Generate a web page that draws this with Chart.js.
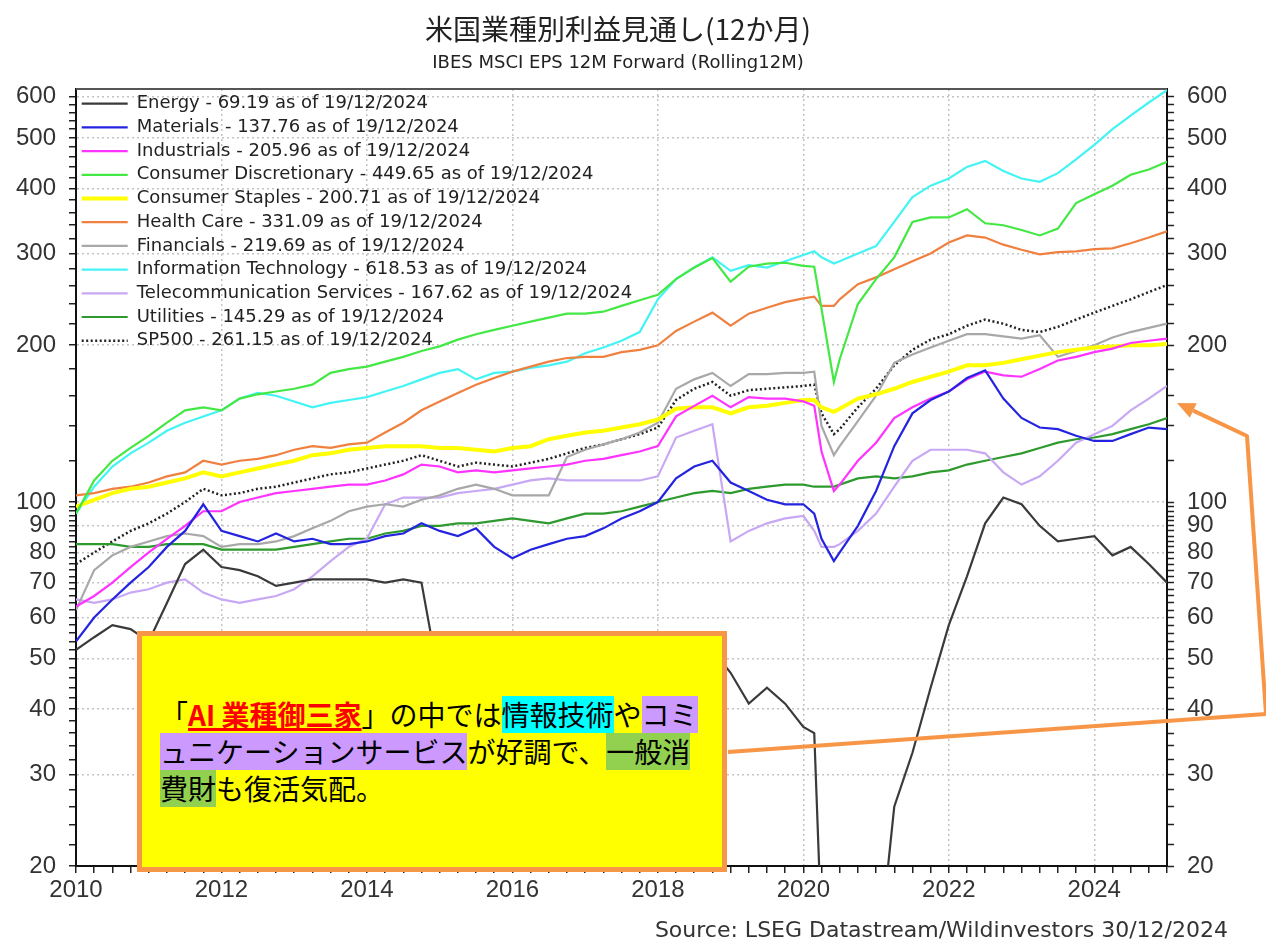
<!DOCTYPE html>
<html>
<head>
<meta charset="utf-8">
<script src="https://cdn.jsdelivr.net/npm/chart.js@4.4.1/dist/chart.umd.min.js"></script>
<style>
  body { margin: 0; background: #fff; }
  #wrap { position: relative; width: 1266px; height: 941px; }
  #note {
    position: absolute; left: 137px; top: 631px; width: 590px; height: 241px;
    box-sizing: border-box; border: 5px solid #F79646; background: #FFFF00;
    padding: 60px 0 0 18px; font-family: "Noto Sans CJK JP"; font-size: 28px; color: #000;
  }
  #note .ln { height: 37px; line-height: 37px; white-space: nowrap; }
  #note .hc, #note .hp, #note .hg { display: inline-block; height: 37px; }
  #note .hc { background: #00FFFF; }
  #note .hp { background: #CC99FF; }
  #note .hg { background: #92D050; }
  #note .red { color: #FF0000; font-weight: bold; text-decoration: underline; text-decoration-thickness: 3px; }
  #source {
    position: absolute; right: 38px; top: 917px; font-family: "DejaVu Sans"; font-size: 22px;
    line-height: 26px; color: #333; white-space: nowrap;
  }
</style>
</head>
<body>
<div id="wrap">
  <canvas id="myChart" width="1266" height="941"></canvas>
  <div id="note">
    <div class="ln">「<span class="red">AI 業種御三家</span>」の中では<span class="hc">情報技術</span>や<span class="hp">コミ</span></div>
    <div class="ln"><span class="hp">ュニケーションサービス</span>が好調で、<span class="hg">一般消</span></div>
    <div class="ln"><span class="hg">費財</span>も復活気配。</div>
  </div>
  <div id="source">Source: LSEG Datastream/Wildinvestors 30/12/2024</div>
</div>
<script>
// dates (decimal years), quarterly plus two extra points around the 2020 crash
const dates = [
  2010, 2010.25, 2010.5, 2010.75, 2011, 2011.25, 2011.5, 2011.75,
  2012, 2012.25, 2012.5, 2012.75, 2013, 2013.25, 2013.5, 2013.75,
  2014, 2014.25, 2014.5, 2014.75, 2015, 2015.25, 2015.5, 2015.75,
  2016, 2016.25, 2016.5, 2016.75, 2017, 2017.25, 2017.5, 2017.75,
  2018, 2018.25, 2018.5, 2018.75, 2019, 2019.25, 2019.5, 2019.75,
  2020, 2020.15, 2020.25, 2020.42, 2020.5, 2020.75,
  2021, 2021.25, 2021.5, 2021.75, 2022, 2022.25, 2022.5, 2022.75,
  2023, 2023.25, 2023.5, 2023.75, 2024, 2024.25, 2024.5, 2024.75, 2025
];

const energy = [
  52, 55, 58, 57, 54, 64, 76, 81, 75, 74, 72, 69, 70, 71, 71, 71,
  71, 70, 71, 70, 45, 38, 34, 30, 26, 24, 27, 30, 33, 35, 37, 40,
  43, 46, 50, 52, 47, 41, 44, 41, 37, 36, 15, 8, 7, 9,
  12, 26, 33, 44, 58, 72, 91, 102, 99, 90, 84, 85, 86, 79, 82, 76, 70
];
const materials = [
  54, 60, 65, 70, 75, 82, 88, 99, 88, 86, 84, 87, 84, 85, 83, 83,
  84, 86, 87, 91, 88, 86, 89, 82, 78, 81, 83, 85, 86, 89, 93, 96,
  100, 111, 117, 120, 109, 105, 101, 99, 99, 95, 85, 77, 80, 90,
  105, 128, 148, 157, 163, 173, 179, 158, 145, 139, 138, 134, 131, 131, 135, 139, 138
];
const industrials = [
  63, 66, 70, 75, 80, 85, 90, 96, 96, 100, 102, 104, 105, 106, 107, 108,
  108, 110, 113, 118, 117, 114, 115, 114, 115, 116, 117, 118, 120, 121, 123, 125,
  128, 146, 153, 160, 152, 159, 158, 158, 156, 153, 125, 105, 108, 120,
  130, 145, 152, 158, 163, 172, 178, 175, 174, 180, 187, 190, 194, 197, 202, 204, 206
];
const consDisc = [
  95, 110, 120, 127, 134, 142, 150, 152, 150, 158, 161, 163, 165, 168, 177, 180,
  182, 186, 190, 195, 199, 205, 210, 214, 218, 222, 226, 230, 230, 232, 238, 244,
  250, 268, 282, 294, 265, 283, 287, 288, 284, 283, 235, 170, 188, 240,
  268, 295, 345, 352, 352, 365, 343, 340, 333, 325, 335, 375, 390, 405, 425, 435, 450
];
const consStaples = [
  98, 101, 104, 106, 107, 109, 111, 114, 112, 114, 116, 118, 120, 123, 124, 126,
  127, 128, 128, 128, 127, 127, 126, 125, 127, 128, 132, 134, 136, 137, 139, 141,
  144, 151, 152, 152, 148, 152, 153, 155, 157, 157, 152, 149, 151, 158,
  161, 165, 170, 174, 178, 183, 183, 185, 188, 191, 194, 196, 198, 199, 200, 200, 201
];
const healthCare = [
  103, 104, 106, 107, 109, 112, 114, 120, 118, 120, 121, 123, 126, 128, 127, 129,
  130, 136, 142, 150, 156, 162, 168, 173, 178, 182, 186, 189, 190, 190, 194, 196,
  200, 213, 222, 231, 218, 230, 236, 242, 246, 248, 238, 238, 245, 262,
  270, 280, 290, 300, 315, 325, 322, 312, 305, 299, 302, 303, 306, 307, 314, 322, 331
];
const financials = [
  62, 74, 79, 82, 84, 86, 87, 86, 82, 83, 83, 84, 86, 89, 92, 96,
  98, 99, 98, 101, 103, 106, 108, 106, 103, 103, 103, 122, 126, 129, 132, 136,
  142, 165, 172, 177, 167, 176, 176, 177, 177, 178, 140, 123, 128, 143,
  160, 185, 192, 198, 204, 210, 210, 208, 206, 209, 190, 195, 200, 207, 212, 216, 220
];
const infoTech = [
  95, 107, 117, 124, 130, 137, 142, 146, 150, 158, 162, 160, 156, 152, 155, 157,
  159, 163, 167, 172, 177, 180, 172, 177, 178, 181, 183, 186, 193, 198, 204, 212,
  245, 268, 282, 295, 278, 285, 282, 290, 298, 303, 295, 287, 290, 300,
  310, 345, 385, 405, 418, 440, 452, 432, 418, 412, 428, 455, 485, 520, 552, 585, 618
];
const telecom = [
  65, 64, 65, 67, 68, 70, 71, 67, 65, 64, 65, 66, 68, 72, 77, 82,
  85, 99, 102, 102, 102, 104, 105, 106, 108, 110, 111, 110, 110, 110, 110, 110,
  112, 133, 137, 141, 84, 88, 91, 93, 94, 88, 82, 82, 83, 88,
  95, 107, 120, 126, 126, 126, 124, 114, 108, 112, 120, 130, 135, 140, 150, 158, 167
];
const utilities = [
  83, 83, 83, 82, 82, 83, 83, 83, 81, 81, 81, 81, 82, 83, 84, 85,
  85, 87, 88, 90, 90, 91, 91, 92, 93, 92, 91, 93, 95, 95, 96, 98,
  100, 102, 104, 105, 104, 106, 107, 108, 108, 107, 107, 107, 108, 111,
  112, 111, 112, 114, 115, 118, 120, 122, 124, 127, 130, 132, 133, 135, 138, 141, 145
];
const sp500 = [
  76, 80, 84, 88, 91, 95, 100, 106, 103, 104, 106, 107, 109, 111, 113, 114,
  116, 118, 120, 123, 120, 117, 119, 118, 117, 119, 121, 124, 127, 129, 132, 135,
  139, 157, 165, 170, 160, 164, 165, 166, 167, 168, 148, 135, 138, 152,
  165, 183, 196, 205, 210, 218, 224, 220, 214, 212, 217, 224, 231, 238, 245, 253, 261
];

const seriesLabels = [
  'Energy - 69.19 as of 19/12/2024',
  'Materials - 137.76 as of 19/12/2024',
  'Industrials - 205.96 as of 19/12/2024',
  'Consumer Discretionary - 449.65 as of 19/12/2024',
  'Consumer Staples - 200.71 as of 19/12/2024',
  'Health Care - 331.09 as of 19/12/2024',
  'Financials - 219.69 as of 19/12/2024',
  'Information Technology - 618.53 as of 19/12/2024',
  'Telecommunication Services - 167.62 as of 19/12/2024',
  'Utilities - 145.29 as of 19/12/2024',
  'SP500 - 261.15 as of 19/12/2024'
];
const seriesValues = [energy, materials, industrials, consDisc, consStaples, healthCare,
  financials, infoTech, telecom, utilities, sp500];
const seriesColors = ['#3a3a3a', '#2424e0', '#ff33ff', '#44e844', '#ffff00', '#f08040',
  '#a8a8a8', '#44f4f4', '#c8a8f4', '#2e9a2e', '#222222'];

const yMajor = [20, 30, 40, 50, 60, 70, 80, 90, 100, 200, 300, 400, 500, 600];
const yTicks = [];
for (let v = 20; v <= 100; v += 2) yTicks.push(v);
for (let v = 120; v <= 600; v += 20) yTicks.push(v);
const xTicks = [];
for (let k = 0; k <= 60; k++) xTicks.push(2010 + k / 4);

const isEvenYear = v => Number.isInteger(v) && v % 2 === 0;
const clear = 'rgba(0,0,0,0)';

const datasets = seriesValues.map((vals, i) => ({
  label: seriesLabels[i],
  data: dates.map((d, j) => ({ x: d, y: vals[j] })),
  borderColor: seriesColors[i],
  backgroundColor: seriesColors[i],
  borderWidth: i === 4 ? 4 : (i === 10 ? 2.5 : 2.2),
  borderDash: i === 10 ? [2, 2.5] : [],
  pointRadius: 0,
  tension: 0,
  fill: false,
  yAxisID: 'y'
}));

const decorPlugin = {
  id: 'decor',
  afterLayout(chart) {
    // keep the legend inside the top-left corner of the plot area
    const lg = chart.legend, a = chart.chartArea;
    if (lg) {
      lg.left = a.left; lg.right = a.right;
      lg.top = a.top; lg.bottom = a.bottom;
    }
  },
  beforeDatasetsDraw(chart) {
    const { ctx, chartArea: a } = chart;
    ctx.save();
    ctx.strokeStyle = '#555';
    ctx.lineWidth = 2;
    ctx.beginPath();
    ctx.moveTo(a.left, a.top);
    ctx.lineTo(a.right, a.top);
    ctx.stroke();
    ctx.restore();
  },
  afterDraw(chart) {
    // orange callout line + arrow pointing at the right edge
    const { ctx } = chart;
    const tipX = chart.chartArea.right + 10;
    const tipY = chart.scales.y.getPixelForValue(155);
    const bx = 1247, by = 436;
    const ang = Math.atan2(tipY - by, tipX - bx);
    const len = 18, half = 8;
    const baseX = tipX - Math.cos(ang) * len, baseY = tipY - Math.sin(ang) * len;
    ctx.save();
    ctx.strokeStyle = '#F79646';
    ctx.fillStyle = '#F79646';
    ctx.lineWidth = 4;
    ctx.lineJoin = 'round';
    ctx.beginPath();
    ctx.moveTo(728, 752);
    ctx.lineTo(1266, 714);
    ctx.lineTo(bx, by);
    ctx.lineTo(baseX, baseY);
    ctx.stroke();
    ctx.beginPath();
    ctx.moveTo(tipX, tipY);
    ctx.lineTo(baseX + Math.sin(ang) * half, baseY - Math.cos(ang) * half);
    ctx.lineTo(baseX - Math.sin(ang) * half, baseY + Math.cos(ang) * half);
    ctx.closePath();
    ctx.fill();
    ctx.restore();
  }
};

const ctx = document.getElementById('myChart').getContext('2d');
const myChart = new Chart(ctx, {
  type: 'line',
  data: { datasets: datasets },
  plugins: [decorPlugin],
  options: {
    responsive: false,
    animation: false,
    events: [],
    layout: { padding: { left: 0, right: 30, top: 0, bottom: 0 } },
    plugins: {
      title: {
        display: true,
        text: '米国業種別利益見通し(12か月)',
        color: '#222',
        font: { family: 'Noto Sans CJK JP', size: 28, weight: 'normal' },
        padding: { top: 13, bottom: 5.6 }
      },
      subtitle: {
        display: true,
        text: 'IBES MSCI EPS 12M Forward (Rolling12M)',
        color: '#222',
        font: { family: 'DejaVu Sans', size: 18 },
        padding: { top: 0, bottom: 15.2 }
      },
      legend: {
        position: 'chartArea',
        align: 'start',
        labels: {
          usePointStyle: true,
          pointStyle: 'line',
          pointStyleWidth: 46,
          padding: 5.7,
          color: '#222',
          font: { family: 'DejaVu Sans', size: 18 },
          generateLabels: chart => {
            const items = Chart.defaults.plugins.legend.labels.generateLabels(chart);
            items.forEach(it => {
              const ds = chart.data.datasets[it.datasetIndex];
              it.lineDash = ds.borderDash;
              it.lineWidth = ds.borderWidth;
              it.strokeStyle = ds.borderColor;
            });
            return items;
          }
        }
      },
      tooltip: { enabled: false }
    },
    scales: {
      x: {
        type: 'linear',
        min: 2010,
        max: 2025,
        bounds: 'data',
        afterBuildTicks: axis => { axis.ticks = xTicks.map(v => ({ value: v })); },
        afterFit: axis => { axis.height = 75; },
        ticks: {
          autoSkip: false,
          maxRotation: 0,
          minRotation: 0,
          padding: 3,
          color: '#333',
          font: { family: 'Liberation Sans', size: 24 },
          callback: v => isEvenYear(v) ? String(v) : ''
        },
        grid: {
          color: c => (c.tick && isEvenYear(c.tick.value) && c.tick.value > 2010) ? '#c4c4c4' : clear,
          lineWidth: 1.5,
          tickColor: '#222',
          tickLength: 7,
          tickWidth: 1.5
        },
        border: { color: '#111', width: 2, dash: [2, 3] }
      },
      y: {
        type: 'logarithmic',
        position: 'left',
        min: 20,
        max: 621,
        bounds: 'data',
        afterBuildTicks: axis => { axis.ticks = yTicks.map(v => ({ value: v })); },
        afterFit: axis => { axis.width = 76; },
        ticks: {
          autoSkip: false,
          padding: 13,
          color: '#333',
          font: { family: 'Liberation Sans', size: 24 },
          callback: v => yMajor.includes(v) ? String(v) : ''
        },
        grid: {
          color: c => (c.tick && yMajor.includes(c.tick.value) && c.tick.value > 20) ? '#c4c4c4' : clear,
          lineWidth: 1.5,
          tickColor: '#222',
          tickLength: 7,
          tickWidth: 1.5
        },
        border: { color: '#111', width: 2, dash: [2, 3] }
      },
      y2: {
        type: 'logarithmic',
        position: 'right',
        min: 20,
        max: 621,
        bounds: 'data',
        afterBuildTicks: axis => { axis.ticks = yTicks.map(v => ({ value: v })); },
        afterFit: axis => { axis.width = 69; },
        ticks: {
          autoSkip: false,
          padding: 13,
          color: '#333',
          font: { family: 'Liberation Sans', size: 24 },
          callback: v => yMajor.includes(v) ? String(v) : ''
        },
        grid: {
          drawOnChartArea: false,
          color: clear,
          tickColor: '#222',
          tickLength: 7,
          tickWidth: 1.5
        },
        border: { color: '#111', width: 2 }
      }
    }
  }
});
</script>
</body>
</html>
